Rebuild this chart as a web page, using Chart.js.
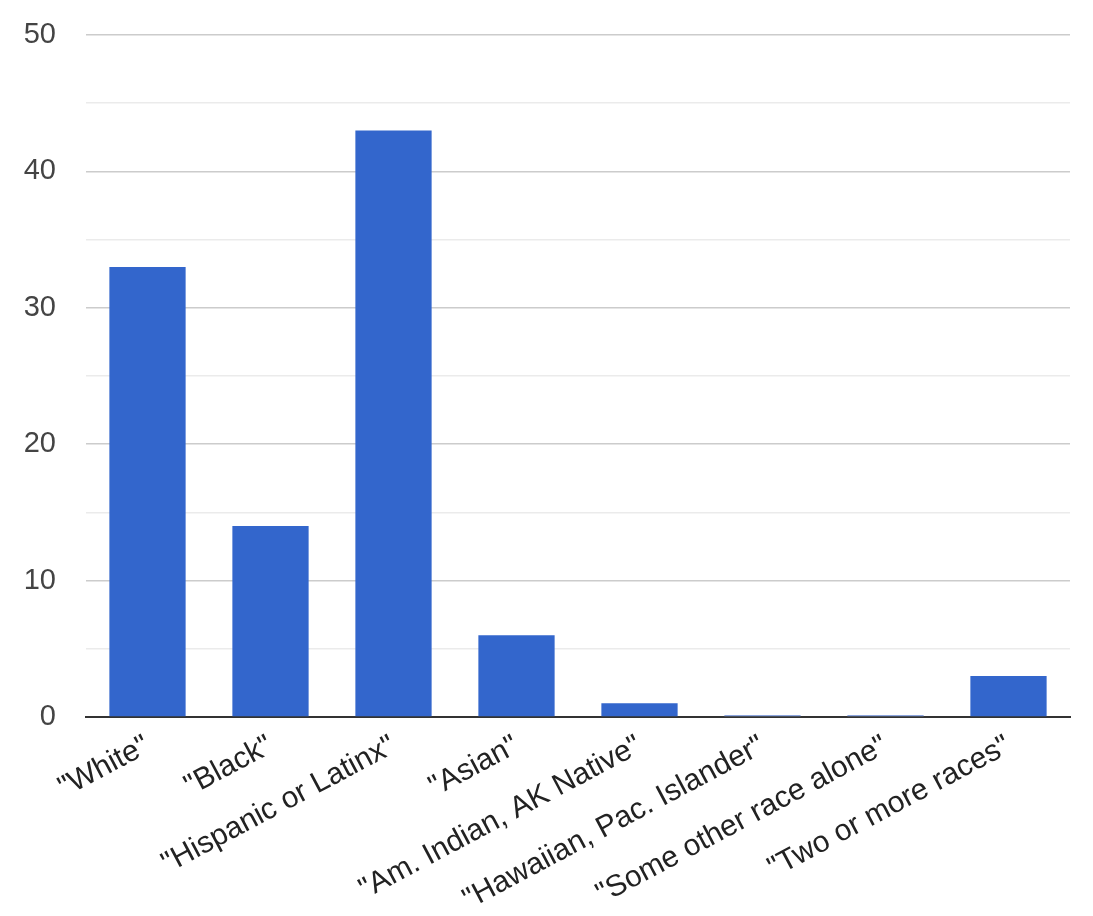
<!DOCTYPE html>
<html>
<head>
<meta charset="utf-8">
<script src="https://cdn.jsdelivr.net/npm/chart.js@4.4.1/dist/chart.umd.min.js"></script>
<style>
    html, body { margin: 0; padding: 0; background: #fff; }
    #wrap { width: 1093px; height: 916px; position: relative; }
</style>
</head>
<body>
<div id="wrap"><canvas id="race-chart"></canvas></div>
<script>
const categories = [
    '"White"',
    '"Black"',
    '"Hispanic or Latinx"',
    '"Asian"',
    '"Am. Indian, AK Native"',
    '"Hawaiian, Pac. Islander"',
    '"Some other race alone"',
    '"Two or more races"'
];
const counts = [33, 14, 43, 6, 1, 0, 0, 3];
const yTicks = [0, 10, 20, 30, 40, 50];

const BAR_COLOR = '#3366cc';
const ZERO_BAR_COLOR = '#8da6de';

Chart.defaults.font.family = '"Liberation Sans", Arial, sans-serif';

var ctx = document.getElementById('race-chart').getContext('2d');
var raceChart = new Chart(ctx, {
    type: 'bar',
    data: {
        labels: categories,
        datasets: [{
            data: counts,
            backgroundColor: function(c) {
                return c.raw === 0 ? ZERO_BAR_COLOR : BAR_COLOR;
            },
            categoryPercentage: 0.62,
            barPercentage: 1.0,
            minBarLength: 2
        }]
    },
    options: {
        responsive: true,
        maintainAspectRatio: false,
        animation: false,
        layout: { padding: { left: 24, right: 23, top: 0, bottom: 0 } },
        plugins: {
            legend: { display: false },
            tooltip: { enabled: false }
        },
        scales: {
            x: {
                grid: { display: false },
                border: { display: true, color: '#333', width: 2 },
                afterFit: function(scale) {
                    // rotated first label may hang into the y axis area
                    scale.paddingLeft = 0;
                    scale.height = 199;
                },
                ticks: {
                    color: '#222',
                    font: { size: 30 },
                    minRotation: 28,
                    maxRotation: 28,
                    autoSkip: false,
                    padding: 3,
                    labelOffset: 0
                }
            },
            y: {
                min: yTicks[0],
                max: yTicks[yTicks.length - 1],
                border: { display: false },
                afterFit: function(scale) {
                    scale.width = 62;
                    scale.paddingTop = 35;
                    scale.paddingBottom = 0;
                },
                grid: {
                    drawTicks: false,
                    color: function(c) {
                        return yTicks.indexOf(c.tick.value) >= 0 ? '#cccccc' : '#ebebeb';
                    },
                    lineWidth: 1.5
                },
                ticks: {
                    stepSize: 5,
                    color: '#444',
                    font: { size: 29 },
                    padding: 30,
                    callback: function(v) {
                        return yTicks.indexOf(v) >= 0 ? v : '';
                    }
                }
            }
        }
    }
});
</script>
</body>
</html>
